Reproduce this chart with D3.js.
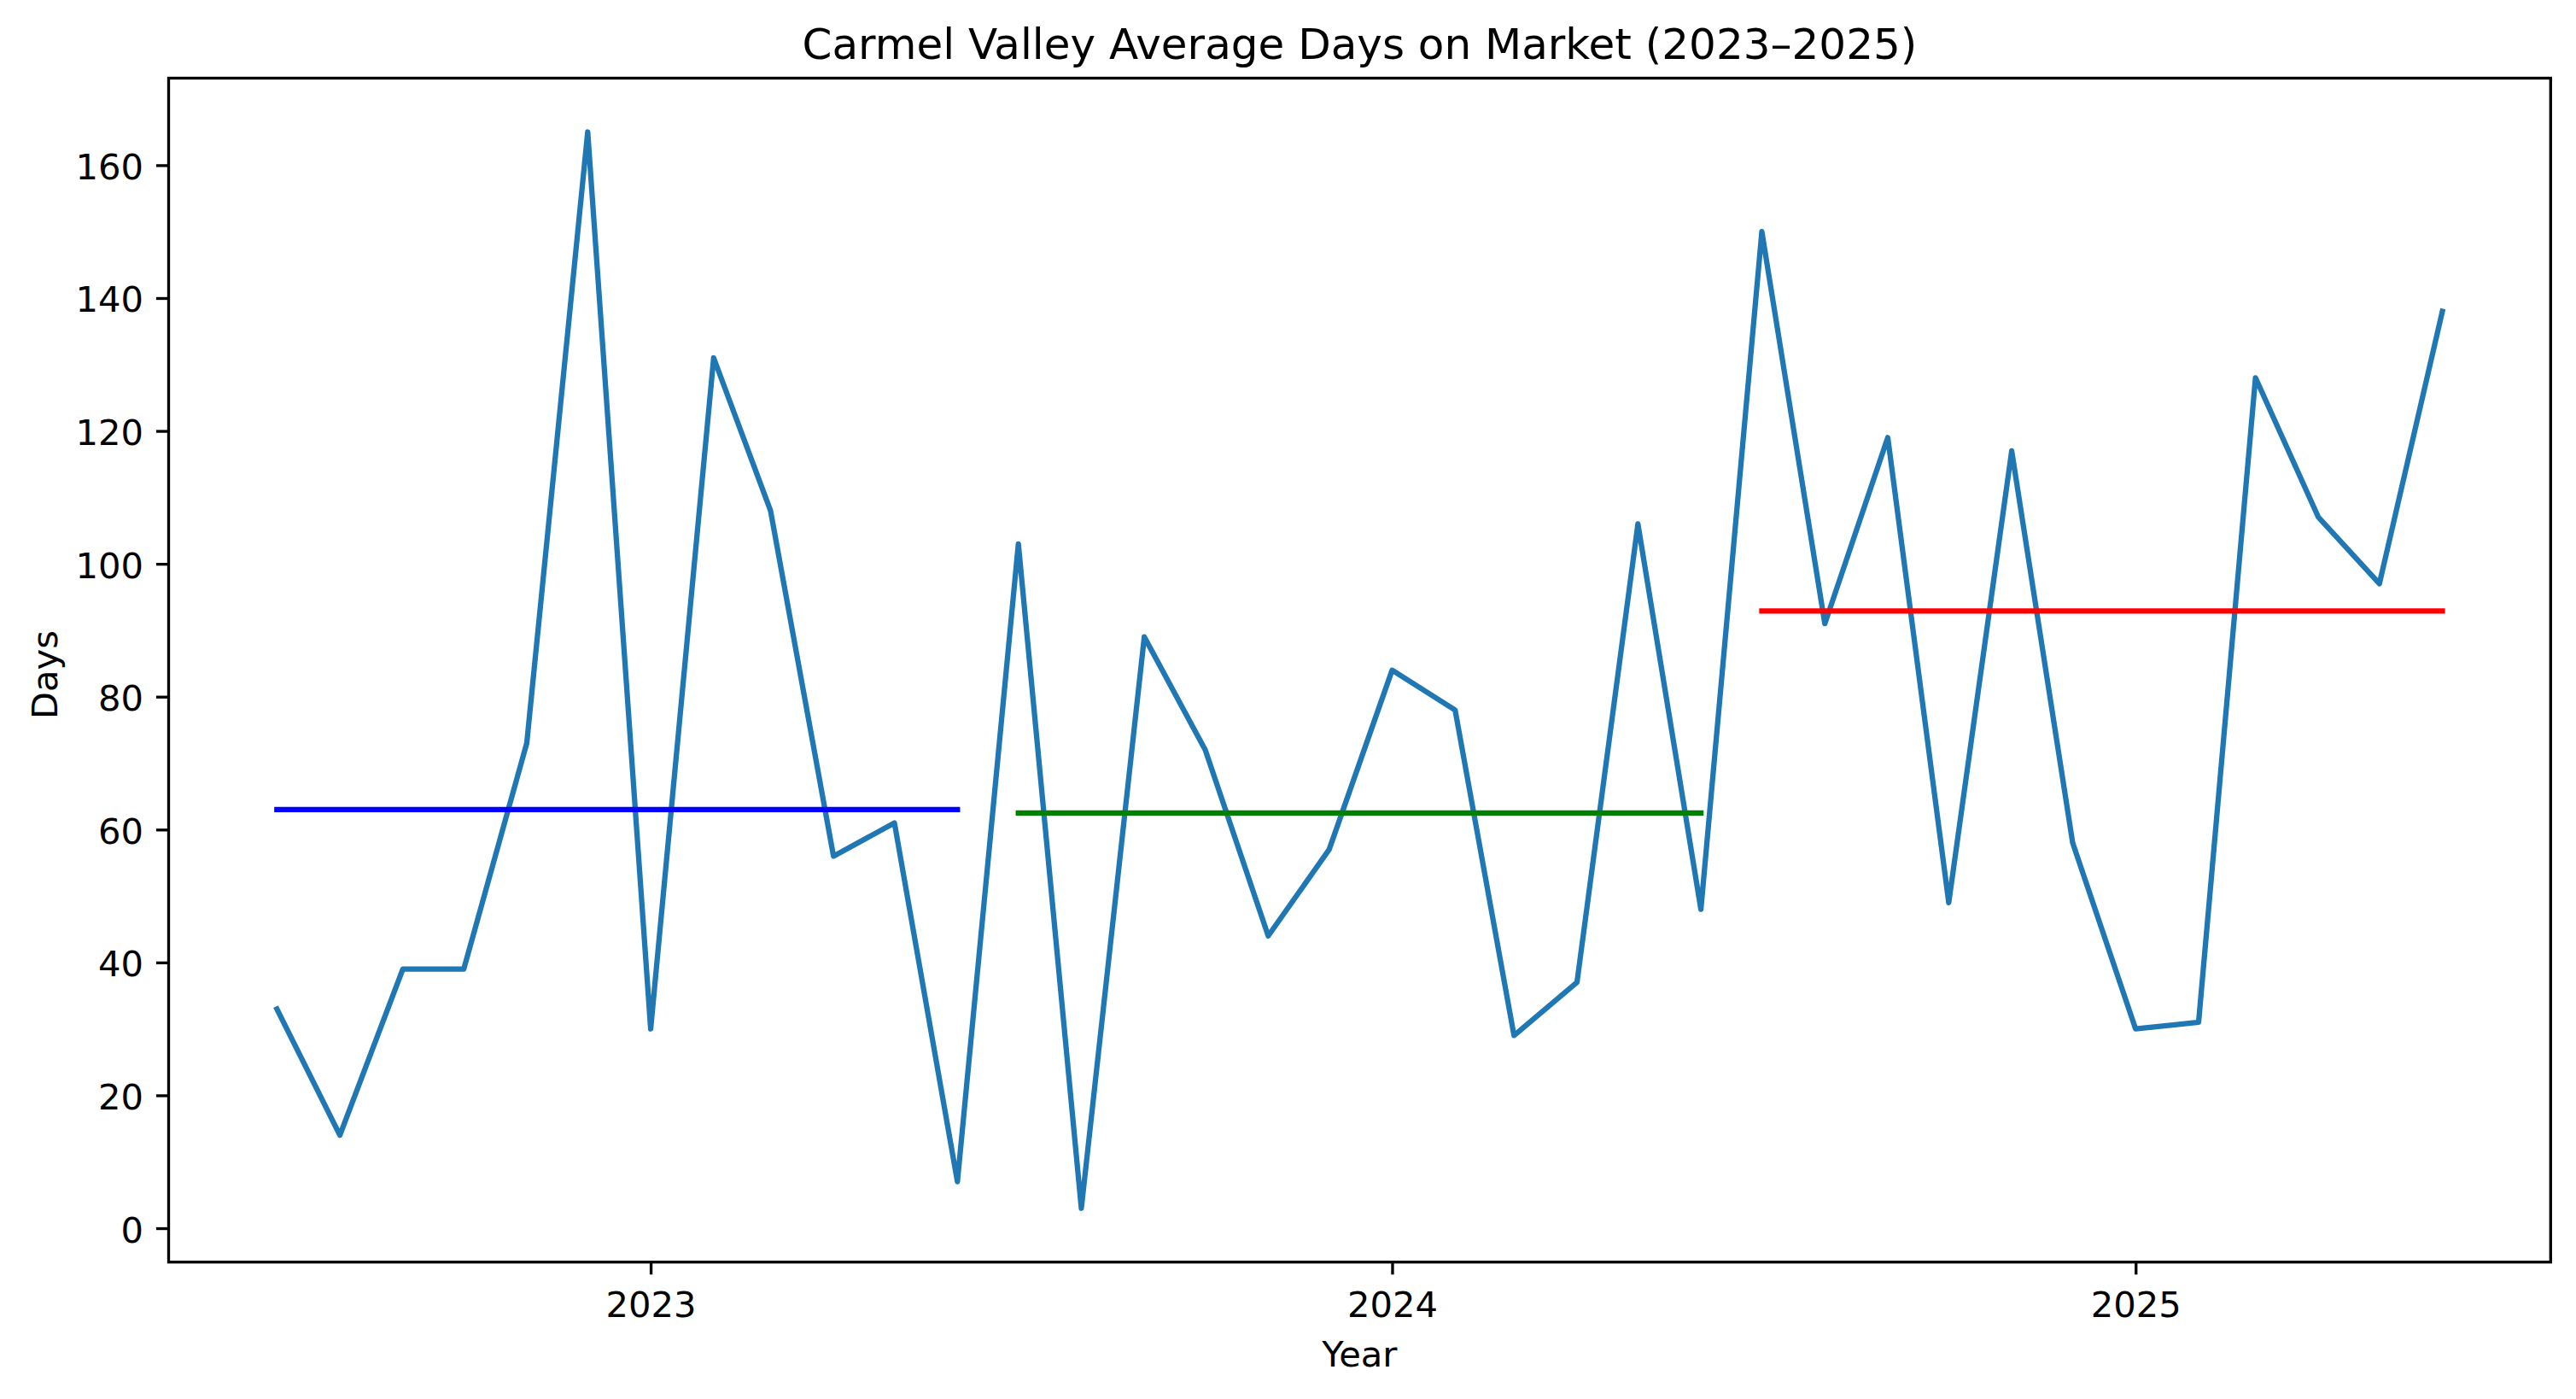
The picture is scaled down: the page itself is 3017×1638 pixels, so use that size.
<!DOCTYPE html>
<html>
<head>
<meta charset="utf-8">
<title>Carmel Valley Average Days on Market</title>
<script src="https://cdn.jsdelivr.net/npm/d3@7"></script>
<style>
  body { margin: 0; background: #fff; }
  svg { display: block; font-family: "DejaVu Sans", sans-serif; }
</style>
</head>
<body>
<svg id="chart"></svg>
<script>
// monthly average days on market, Jul 2022 - Jun 2025
const months = [
  "2022-07", "2022-08", "2022-09", "2022-10", "2022-11", "2022-12",
  "2023-01", "2023-02", "2023-03", "2023-04", "2023-05", "2023-06",
  "2023-07", "2023-08", "2023-09", "2023-10", "2023-11", "2023-12",
  "2024-01", "2024-02", "2024-03", "2024-04", "2024-05", "2024-06",
  "2024-07", "2024-08", "2024-09", "2024-10", "2024-11", "2024-12",
  "2025-01", "2025-02", "2025-03", "2025-04", "2025-05", "2025-06"
];
const avgDays = [
  33, 14, 39, 39, 73, 165, 30, 131, 108, 56, 61, 7,
  103, 3, 89, 72, 44, 57, 84, 78, 29, 37, 106, 48,
  150, 91, 119, 49, 117, 58, 30, 31, 128, 107, 97, 138
];

// yearly (Jul-Jun) averages drawn as flat lines
const periodStart = ["2022-07", "2023-07", "2024-07"];
const periodEnd = ["2023-06", "2024-06", "2025-06"];
const periodMean = [63.0, 62.5, 92.9];

const yTicks = [0, 20, 40, 60, 80, 100, 120, 140, 160];
const xTickYears = ["2023", "2024", "2025"];

// ---- layout / styles ----
const W = 3017, H = 1638;
const margin = { left: 197.5, right: W - 2987.3, top: 91.5, bottom: H - 1477.7 };
const meanColors = ["blue", "green", "red"];
const px = 300 / 72; // matplotlib points at 300 dpi

const parseMonth = d3.utcParse("%Y-%m");
const parseYear = d3.utcParse("%Y");

const series = months.map((m, i) => ({ date: parseMonth(m), value: avgDays[i] }));

const svg = d3.select("#chart").attr("width", W).attr("height", H);
svg.append("rect").attr("width", W).attr("height", H).attr("fill", "#fff");

const ext = d3.extent(series, d => d.date);
const xPad = (ext[1] - ext[0]) * 0.05;
const x = d3.scaleUtc()
  .domain([new Date(+ext[0] - xPad), new Date(+ext[1] + xPad)])
  .range([margin.left, W - margin.right]);

const yExt = d3.extent(avgDays);
const yPad = (yExt[1] - yExt[0]) * 0.05;
const y = d3.scaleLinear()
  .domain([yExt[0] - yPad, yExt[1] + yPad])
  .range([H - margin.bottom, margin.top]);

const line = d3.line()
  .x(d => x(d.date))
  .y(d => y(d.value));

// data line
svg.append("path")
  .datum(series)
  .attr("fill", "none")
  .attr("stroke", "#1f77b4")
  .attr("stroke-width", 1.5 * px)
  .attr("stroke-linejoin", "round")
  .attr("stroke-linecap", "square")
  .attr("d", line);

// period averages
periodMean.forEach((m, i) => {
  svg.append("path")
    .datum([
      { date: parseMonth(periodStart[i]), value: m },
      { date: parseMonth(periodEnd[i]), value: m }
    ])
    .attr("fill", "none")
    .attr("stroke", meanColors[i])
    .attr("stroke-width", 1.5 * px)
    .attr("stroke-linecap", "square")
    .attr("d", line);
});

const tickLen = 3.5 * px;
const fontSize = 10 * px;

// x axis
const gx = svg.append("g")
  .attr("transform", `translate(0,${H - margin.bottom})`)
  .call(d3.axisBottom(x)
    .tickValues(xTickYears.map(parseYear))
    .tickFormat(d3.utcFormat("%Y"))
    .tickSize(tickLen)
    .tickSizeOuter(0));
gx.select(".domain").remove();
gx.selectAll(".tick line").attr("stroke", "#000").attr("stroke-width", 0.8 * px);
gx.selectAll(".tick text")
  .attr("y", 64).attr("dy", null)
  .attr("fill", "#000")
  .style("font-size", fontSize + "px")
  .style("font-family", "DejaVu Sans");

// y axis
const gy = svg.append("g")
  .attr("transform", `translate(${margin.left},0)`)
  .call(d3.axisLeft(y)
    .tickValues(yTicks)
    .tickSize(tickLen)
    .tickPadding(3.5 * px + 0.3)
    .tickSizeOuter(0));
gy.select(".domain").remove();
gy.selectAll(".tick line").attr("stroke", "#000").attr("stroke-width", 0.8 * px);
gy.selectAll(".tick text")
  .attr("dy", "16px")
  .attr("fill", "#000")
  .style("font-size", fontSize + "px")
  .style("font-family", "DejaVu Sans");

// spines
svg.append("rect")
  .attr("x", margin.left)
  .attr("y", margin.top)
  .attr("width", W - margin.left - margin.right)
  .attr("height", H - margin.top - margin.bottom)
  .attr("fill", "none")
  .attr("stroke", "#000")
  .attr("stroke-width", 0.8 * px)
  .attr("stroke-linejoin", "miter");

const cx = (margin.left + W - margin.right) / 2;

// title and labels
svg.append("text")
  .attr("x", cx)
  .attr("y", 69)
  .attr("text-anchor", "middle")
  .style("font-size", (12 * px) + "px")
  .text("Carmel Valley Average Days on Market (2023–2025)");

svg.append("text")
  .attr("x", cx)
  .attr("y", 1600)
  .attr("text-anchor", "middle")
  .style("font-size", fontSize + "px")
  .text("Year");

svg.append("text")
  .attr("transform", `translate(66.7,790) rotate(-90)`)
  .attr("text-anchor", "middle")
  .style("font-size", fontSize + "px")
  .text("Days");
</script>
</body>
</html>
